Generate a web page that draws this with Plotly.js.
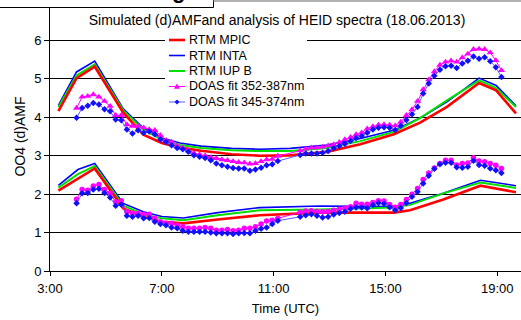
<!DOCTYPE html>
<html>
<head>
<meta charset="utf-8">
<script src="https://cdn.plot.ly/plotly-3.0.1.min.js"></script>
<style>html,body{margin:0;padding:0;background:#fff;}#chart{width:521px;height:320px;}</style>
</head>
<body>
<div id="chart"></div>
<script>
// ---------- DATA ----------
const tickVals = [3, 7, 11, 15, 19];
const tickText = ['3:00', '7:00', '11:00', '15:00', '19:00'];

// RTM simulations (hours UTC)
const rtmTimesUp = [3.30, 3.95, 4.60, 5.62, 6.34, 7.00, 7.65, 8.40, 9.50, 10.50, 11.60, 12.90, 14.10, 15.30, 16.24, 17.20, 18.35, 18.96, 19.67];
const mpicUp = [4.16, 5.02, 5.32, 4.12, 3.55, 3.33, 3.21, 3.13, 3.04, 3.00, 3.01, 3.10, 3.30, 3.56, 3.86, 4.27, 4.89, 4.70, 4.10];
const intaUp = [4.31, 5.18, 5.46, 4.22, 3.72, 3.46, 3.33, 3.25, 3.19, 3.17, 3.19, 3.28, 3.45, 3.66, 3.98, 4.40, 5.02, 4.83, 4.30];
const iupbUp = [4.27, 5.09, 5.38, 4.18, 3.68, 3.42, 3.28, 3.20, 3.14, 3.12, 3.12, 3.20, 3.38, 3.62, 3.98, 4.44, 4.96, 4.76, 4.27];

const rtmTimesLow = [3.30, 4.00, 4.60, 5.62, 6.34, 7.00, 7.77, 9.00, 10.50, 12.66, 15.30, 15.88, 17.07, 18.40, 19.67];
const mpicLow = [2.09, 2.41, 2.67, 1.63, 1.41, 1.28, 1.24, 1.34, 1.45, 1.52, 1.52, 1.58, 1.86, 2.22, 2.05];
const intaLow = [2.23, 2.64, 2.80, 1.76, 1.54, 1.42, 1.38, 1.52, 1.65, 1.69, 1.68, 1.76, 2.02, 2.36, 2.22];
const iupbLow = [2.17, 2.52, 2.73, 1.70, 1.48, 1.37, 1.32, 1.45, 1.58, 1.60, 1.65, 1.72, 2.02, 2.30, 2.16];

// DOAS measurements (hours UTC)
const doasTimes = [3.95, 4.15, 4.35, 4.55, 4.75, 4.95, 5.15, 5.35, 5.55, 5.75, 5.95, 6.15, 6.35, 6.55, 6.75, 6.95, 7.15, 7.35, 7.55, 7.75,
  7.95, 8.15, 8.35, 8.55, 8.75, 8.95, 9.15, 9.35, 9.55, 9.75, 9.95, 10.15, 10.35, 10.55, 10.75, 10.95, 11.15,
  11.95, 12.15, 12.35, 12.55, 12.75, 12.95, 13.15, 13.35, 13.55, 13.75, 13.95, 14.15, 14.35, 14.55, 14.75, 14.95, 15.15,
  15.35, 15.55, 15.75, 15.95, 16.15, 16.35, 16.55, 16.75, 16.95, 17.15, 17.35, 17.55, 17.75, 17.95, 18.15, 18.35, 18.55, 18.75, 18.95, 19.15];
const doas352Up = [4.24, 4.53, 4.55, 4.59, 4.53, 4.42, 4.29, 4.05, 4.05, 3.81, 3.77, 3.77, 3.73, 3.68, 3.66, 3.53, 3.40, 3.36, 3.26, 3.20,
  3.13, 3.07, 3.03, 3.00, 2.96, 2.93, 2.90, 2.88, 2.85, 2.83, 2.82, 2.79, 2.80, 2.85, 2.90, 2.91, 2.99,
  3.13, 3.18, 3.21, 3.21, 3.23, 3.26, 3.29, 3.35, 3.42, 3.48, 3.55, 3.60, 3.70, 3.76, 3.80, 3.81, 3.80,
  3.78, 3.88, 4.05, 4.20, 4.42, 4.72, 4.98, 5.19, 5.36, 5.44, 5.47, 5.44, 5.55, 5.65, 5.77, 5.78, 5.77, 5.68, 5.48, 5.22];
const doas345Up = [3.99, 4.24, 4.30, 4.37, 4.33, 4.21, 4.16, 3.94, 3.92, 3.68, 3.58, 3.66, 3.60, 3.63, 3.56, 3.42, 3.36, 3.27, 3.20, 3.17,
  3.10, 3.01, 2.97, 2.94, 2.88, 2.80, 2.75, 2.71, 2.68, 2.67, 2.67, 2.61, 2.64, 2.69, 2.75, 2.78, 2.86,
  3.02, 3.06, 3.06, 3.06, 3.08, 3.12, 3.20, 3.25, 3.31, 3.38, 3.46, 3.51, 3.60, 3.68, 3.73, 3.74, 3.73,
  3.67, 3.78, 3.93, 4.08, 4.27, 4.62, 4.88, 5.08, 5.24, 5.33, 5.34, 5.28, 5.40, 5.47, 5.58, 5.52, 5.56, 5.46, 5.30, 5.05];
const doas352Low = [1.87, 2.12, 2.10, 2.21, 2.25, 2.12, 2.02, 1.80, 1.83, 1.54, 1.50, 1.50, 1.48, 1.48, 1.37, 1.28, 1.24, 1.24, 1.19, 1.15,
  1.11, 1.11, 1.11, 1.13, 1.11, 1.06, 1.06, 1.08, 1.05, 1.06, 1.11, 1.11, 1.15, 1.22, 1.30, 1.32, 1.37,
  1.53, 1.56, 1.57, 1.55, 1.54, 1.55, 1.58, 1.61, 1.63, 1.67, 1.76, 1.74, 1.74, 1.78, 1.83, 1.82, 1.73,
  1.66, 1.73, 1.86, 2.00, 2.15, 2.38, 2.55, 2.68, 2.80, 2.88, 2.88, 2.76, 2.80, 2.81, 2.95, 2.86, 2.84, 2.80, 2.75, 2.67];
const doas345Low = [1.76, 2.02, 2.03, 2.12, 2.14, 2.03, 1.91, 1.70, 1.73, 1.44, 1.41, 1.44, 1.37, 1.38, 1.28, 1.22, 1.19, 1.13, 1.11, 1.05,
  1.02, 1.02, 1.02, 1.02, 1.00, 0.98, 0.98, 0.98, 0.96, 0.98, 0.99, 0.98, 1.05, 1.10, 1.13, 1.22, 1.31,
  1.41, 1.45, 1.48, 1.44, 1.39, 1.41, 1.47, 1.51, 1.54, 1.62, 1.65, 1.65, 1.63, 1.72, 1.77, 1.75, 1.66,
  1.58, 1.64, 1.77, 1.93, 2.06, 2.28, 2.48, 2.66, 2.78, 2.82, 2.82, 2.70, 2.69, 2.71, 2.87, 2.76, 2.74, 2.67, 2.62, 2.55];

const legendNames = ['RTM MPIC', 'RTM INTA', 'RTM IUP B', 'DOAS fit 352-387nm', 'DOAS fit 345-374nm'];
const titleText = 'Simulated (d)AMFand analysis of HEID spectra (18.06.2013)';

// ---------- STYLE ----------
const FONT = 'Liberation Sans, Arial, sans-serif';
const C = {mpic: '#ff0000', inta: '#0000ff', iupb: '#00e000', p352: '#ff00ff', d345: '#1010ff', d345line: '#5a5aff'};

function rtm(x, y, color, width) {
  return {x: x, y: y, type: 'scatter', mode: 'lines', line: {color: color, width: width}, showlegend: false, hoverinfo: 'skip'};
}
function doas(x, y, lineColor, mColor, symbol, size) {
  return {x: x, y: y, type: 'scatter', mode: 'lines+markers', line: {color: lineColor, width: 1},
    marker: {color: mColor, symbol: symbol, size: size, line: {width: 0}}, showlegend: false, hoverinfo: 'skip'};
}

const traces = [
  rtm(rtmTimesUp, intaUp, C.inta, 1.6),
  rtm(rtmTimesUp, iupbUp, C.iupb, 2),
  rtm(rtmTimesUp, mpicUp, C.mpic, 2.6),
  rtm(rtmTimesLow, intaLow, C.inta, 1.6),
  rtm(rtmTimesLow, iupbLow, C.iupb, 2),
  rtm(rtmTimesLow, mpicLow, C.mpic, 2.6),
  doas(doasTimes, doas352Up, C.p352, C.p352, 'triangle-up', 6.5),
  doas(doasTimes, doas345Up, C.d345line, C.d345, 'diamond', 5),
  doas(doasTimes, doas352Low, C.p352, C.p352, 'circle', 5.5),
  doas(doasTimes, doas345Low, C.d345line, C.d345, 'diamond', 5)
];

// pixel -> paper helpers (plot area: x 50..521, y 2..271)
const M = {l: 50, r: 0, t: 2, b: 49};
const PW = 521 - M.l - M.r, PH = 320 - M.t - M.b;
const px = v => (v - M.l) / PW;
const py = v => (320 - M.b - v) / PH;

// custom compact legend
const rows = [40, 55.5, 71, 86.5, 102];
const shapes = [
  // cut-off frame of neighbouring panel at top-left
  {type: 'rect', xref: 'paper', yref: 'paper', x0: px(-2), x1: px(213.5), y0: py(7.5), y1: py(-3), line: {color: '#000', width: 1}, fillcolor: '#fff', layer: 'above'},
  {type: 'line', xref: 'paper', yref: 'paper', x0: px(213.5), x1: px(522), y0: py(1), y1: py(1), line: {color: '#999', width: 1.5}, layer: 'above'},
  // legend background
  {type: 'rect', xref: 'paper', yref: 'paper', x0: px(165), x1: px(307), y0: py(109), y1: py(33), line: {width: 0}, fillcolor: '#fff', layer: 'above'}
];
const legendStyles = [
  {color: C.mpic, width: 2.6}, {color: C.inta, width: 1.6}, {color: C.iupb, width: 2},
  {color: C.p352, width: 1, marker: 'M-3,-2.3 L3,-2.3 L0,3 Z', mcolor: C.p352},
  {color: C.d345line, width: 1, marker: 'M0,2.5 L2.5,0 L0,-2.5 L-2.5,0 Z', mcolor: C.d345}
];
const annotations = [];
legendNames.forEach((name, i) => {
  const s = legendStyles[i];
  shapes.push({type: 'line', xref: 'paper', yref: 'paper', x0: px(169), x1: px(185), y0: py(rows[i]), y1: py(rows[i]), line: {color: s.color, width: s.width}, layer: 'above'});
  if (s.marker) {
    shapes.push({type: 'path', xref: 'paper', yref: 'paper', xsizemode: 'pixel', ysizemode: 'pixel', xanchor: px(177), yanchor: py(rows[i]),
      path: s.marker, fillcolor: s.mcolor, line: {width: 0}, layer: 'above'});
  }
  annotations.push({xref: 'paper', yref: 'paper', x: px(186.5), y: py(rows[i]), xanchor: 'left', yanchor: 'middle', text: name, showarrow: false,
    font: {family: FONT, size: 12.5, color: '#000'}});
});
// descender of a letter from the neighbouring panel above (cut off by the page edge, as in the reference)
annotations.push({xref: 'paper', yref: 'paper', x: px(178.5), y: py(-10), xanchor: 'center', yanchor: 'middle', text: '<b>g</b>', showarrow: false,
  font: {family: FONT, size: 22, color: '#000'}});

const layout = {
  width: 521, height: 320,
  margin: {l: M.l, r: M.r, t: M.t, b: M.b, pad: 0},
  paper_bgcolor: '#fff', plot_bgcolor: '#fff',
  font: {family: FONT, color: '#000'},
  showlegend: false,
  title: {text: titleText, font: {family: FONT, size: 14, color: '#000'}, xref: 'container', yref: 'container', x: 277 / 521, y: 1 - 20 / 320, xanchor: 'center', yanchor: 'middle'},
  xaxis: {range: [3, 19.85], tickvals: tickVals, ticktext: tickText, ticks: 'outside', ticklen: 4, tickcolor: '#000', tickwidth: 1,
    showline: true, linecolor: '#000', linewidth: 1, showgrid: false, zeroline: false, tickfont: {size: 13, family: FONT},
    ticklabelstandoff: 1,
    title: {text: 'Time (UTC)', font: {size: 13, family: FONT}, standoff: 9}},
  yaxis: {range: [0, 7], tickvals: [0, 1, 2, 3, 4, 5, 6], ticks: 'outside', ticklen: 5, tickcolor: '#000', tickwidth: 1,
    showline: true, linecolor: '#000', linewidth: 1, showgrid: true, gridcolor: '#000', gridwidth: 1, zeroline: false,
    tickfont: {size: 13, family: FONT}, title: {text: 'OO4 (d)AMF', font: {size: 14, family: FONT}, standoff: 5}},
  shapes: shapes,
  annotations: annotations
};

Plotly.newPlot('chart', traces, layout, {displayModeBar: false, staticPlot: true, responsive: false});
</script>
</body>
</html>
